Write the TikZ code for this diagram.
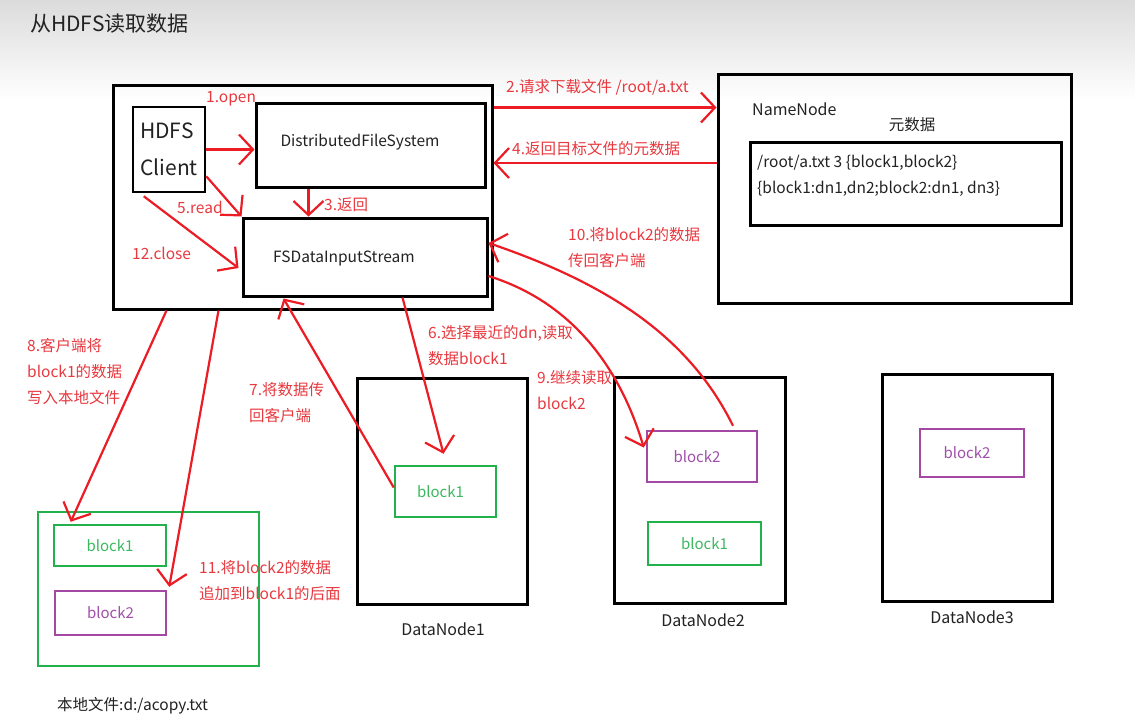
\documentclass[tikz,border=0pt]{standalone}
\usepackage{fontspec}
\setmainfont{Noto Sans CJK SC}
\usetikzlibrary{arrows.meta,calc}
\definecolor{pred}{HTML}{EC1C24}
\definecolor{lred}{HTML}{E8393F}
\definecolor{pgreen}{HTML}{22B14C}
\definecolor{tgreen}{HTML}{3DB860}
\definecolor{ppurple}{HTML}{A349A4}
\definecolor{tpurple}{HTML}{A04FAA}
\definecolor{ink}{HTML}{222222}
\begin{document}
\begin{tikzpicture}[x=1pt,y=-1pt,
  blk/.style={draw=black, line width=3pt, inner sep=0pt, text=ink,
    font=\fontsize{15}{20}\selectfont},
  gbox/.style={draw=pgreen, line width=2.5pt, inner sep=0pt, text=tgreen,
    font=\fontsize{15}{20}\selectfont},
  pbox/.style={draw=ppurple, line width=2.5pt, inner sep=0pt, text=tpurple,
    font=\fontsize{15}{20}\selectfont},
  lbl/.style={text=lred, font=\fontsize{15.5}{26}\selectfont, inner sep=0pt,
    anchor=west, align=left},
  txt/.style={text=ink, font=\fontsize{15.5}{26}\selectfont, inner sep=0pt},
  arr/.style={draw=pred, line width=2.2pt,
    -{Straight Barb[length=14pt,width=30pt,line width=2.2pt]}},
]
% page background
\fill[white] (0,0) rectangle (1135,718);
\shade[top color=black!14, bottom color=white] (0,0) rectangle (1135,100);
\useasboundingbox (0,0) rectangle (1135,718);

\node[text=ink, font=\fontsize{21}{24}\selectfont, inner sep=0pt, anchor=west]
  (title) at (30,24) {从HDFS读取数据};

% client side
\node[blk, minimum width=379, minimum height=224] (client) at (302.5,197) {};
\node[blk, line width=2.5pt, minimum width=72, minimum height=85,
  font=\fontsize{21}{37}\selectfont, align=left] (hc) at (169,149.5) {HDFS\\Client};
\node[blk, minimum width=229, minimum height=84] (dfs) at (370.5,145) {};
\node[txt] (dfst) at (360,142) {DistributedFileSystem};
\node[blk, minimum width=244, minimum height=78] (fsd) at (365,257) {};
\node[txt] (fsdt) at (344,258) {FSDataInputStream};

% NameNode
\node[blk, minimum width=353, minimum height=229] (nn) at (894.5,188.5) {};
\node[txt, font=\fontsize{16}{20}\selectfont, anchor=west] (nnt) at (752,109) {NameNode};
\node[txt] (metat) at (912,125) {元数据};
\node[blk, minimum width=311, minimum height=83] (meta) at (905.5,183.5) {};
\node[txt, font=\fontsize{15.5}{26}\selectfont, anchor=west, align=left] (metal) at (757,176)
  {/root/a.txt 3 \{block1,block2\}\\\{block1:dn1,dn2;block2:dn1, dn3\}};

% local file
\node[gbox, minimum width=221, minimum height=154] (local) at (148.5,589) {};
\node[gbox, minimum width=112, minimum height=41] (lb1) at (110,545.5) {block1};
\node[pbox, minimum width=111, minimum height=44] (lb2) at (110.5,613) {block2};
\node[txt, anchor=west] (localt) at (57,706) {本地文件:d:/acopy.txt};

% DataNodes
\node[blk, minimum width=170, minimum height=226] (dn1) at (442,491) {};
\node[gbox, minimum width=101, minimum height=51] (d1b1) at (445.5,491.5) {block1\hspace*{10pt}};
\node[txt, font=\fontsize{16}{20}\selectfont] (dn1t) at (443,629) {DataNode1};
\node[blk, minimum width=171, minimum height=226] (dn2) at (699.5,490) {};
\node[pbox, minimum width=110, minimum height=51] (d2b2) at (702,456.5) {block2\hspace*{10pt}};
\node[gbox, minimum width=113, minimum height=43] (d2b1) at (704.5,543.5) {block1};
\node[txt, font=\fontsize{16}{20}\selectfont] (dn2t) at (703,620) {DataNode2};
\node[blk, minimum width=170, minimum height=227] (dn3) at (967,487.5) {};
\node[pbox, minimum width=104, minimum height=48] (d3b2) at (972,453) {block2\hspace*{10pt}};
\node[txt, font=\fontsize{16}{20}\selectfont] (dn3t) at (972,617) {DataNode3};

% connector end points on the box borders
\coordinate (reqs) at ($(client.north east)+(0,24)$);
\coordinate (mets) at ($(nn.west)+(0,-25.5)$);

% connectors
\draw[arr] (hc.east) -- (hc.east -| dfs.west);
\draw[arr] ($(hc.south east)+(0,-17)$) -- (fsd.north west);
\draw[arr] ($(hc.south west)+(12,3)$) -- ($(fsd.west)+(-3,11)$);
\draw[arr] ($(dfs.south west)+(54,0)$) -- ($(fsd.north west)+(67,0)$);
\draw[arr] (reqs) -- (reqs -| nn.west);
\draw[arr] (mets) -- (mets -| client.east);
\draw[arr] ($(fsd.south west)+(161,0)$) -- ($(d1b1.north)+(-2,-11)$);
\draw[arr] ($(d1b1.west)+(0,-4)$) -- ($(fsd.south west)+(42,1)$);
\draw[arr] ($(client.south west)+(55,0)$) -- ($(lb1.north west)+(18,-2)$);
\draw[arr] ($(client.south west)+(107,0)$) -- ($(lb2.north east)+(2,-3)$);
\draw[arr] ($(fsd.east)+(0,19)$) .. controls +(93,29) and +(-20,-67) .. ($(d2b2.west)+(-2,-9)$);
\draw[arr] ($(d2b2.north)+(31,-4)$) .. controls +(-43,-87) and +(123,42) .. ($(fsd.east)+(0,-14)$);

% step labels
\node[lbl] (l1) at (206,99) {1.open};
\node[lbl] (l5) at (177,207) {5.read};
\node[lbl] (l12) at (132,253) {12.close};
\node[lbl] (l3) at (324,205) {3.返回};
\node[lbl] (l2) at (506,87) {2.请求下载文件 /root/a.txt};
\node[lbl] (l4) at (512,149) {4.返回目标文件的元数据};
\node[lbl] (l10) at (568,247.5) {10.将block2的数据\\传回客户端};
\node[lbl] (l8) at (27,372) {8.客户端将\\block1的数据\\写入本地文件};
\node[lbl] (l7) at (249,402.5) {7.将数据传\\回客户端};
\node[lbl] (l11) at (199,580.5) {11.将block2的数据\\追加到block1的后面};
\node[lbl] (l6) at (428,346) {6.选择最近的dn,读取\\数据block1};
\node[lbl] (l9) at (537,390) {9.继续读取\\block2};
\end{tikzpicture}
\end{document}
